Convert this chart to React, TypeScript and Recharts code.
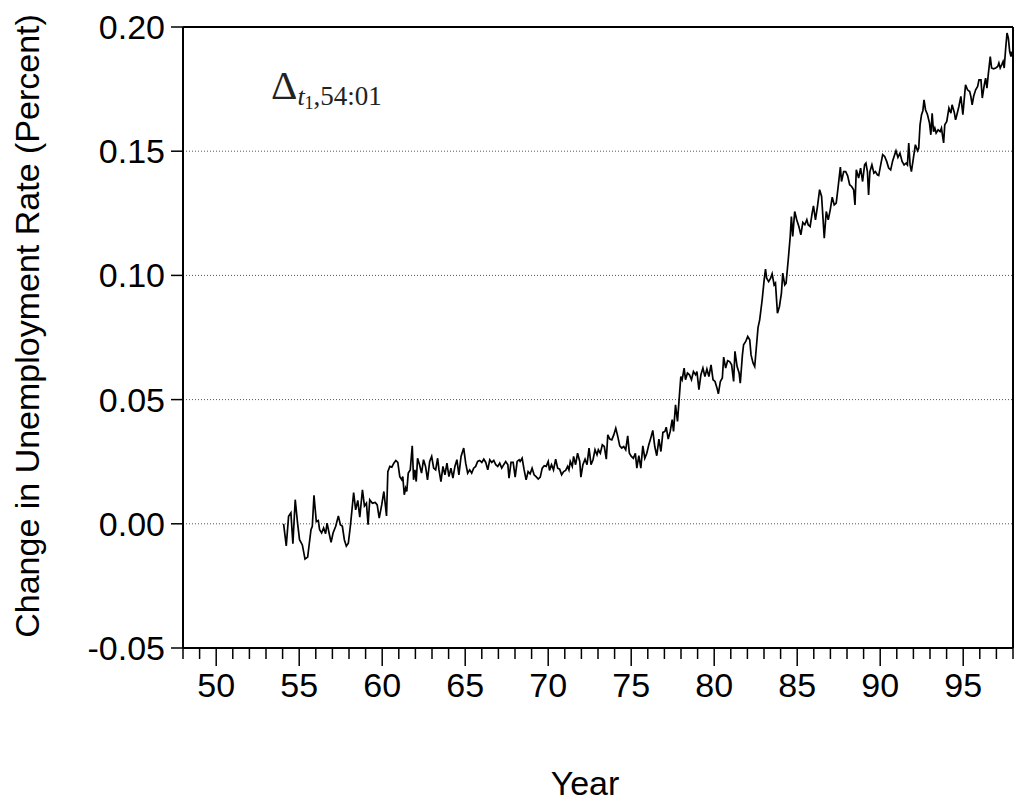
import React from 'react';
import { LineChart, Line, XAxis, YAxis, CartesianGrid, ReferenceLine } from 'recharts';

const years: number[] = [
  54.06, 54.22, 54.36, 54.50, 54.62, 54.76, 54.90, 55.02, 55.19, 55.35, 55.51, 55.71, 55.79, 55.89,
  56.03, 56.15, 56.23, 56.35, 56.47, 56.59, 56.68, 56.80, 56.92, 57.04, 57.20, 57.36, 57.48, 57.60,
  57.72, 57.84, 57.96, 58.08, 58.16, 58.28, 58.40, 58.53, 58.65, 58.81, 58.93, 59.05, 59.15, 59.25,
  59.41, 59.58, 59.70, 59.82, 59.97, 60.10, 60.26, 60.34, 60.46, 60.58, 60.70, 60.82, 60.94, 61.06,
  61.18, 61.24, 61.33, 61.41, 61.48, 61.57, 61.69, 61.81, 61.89, 61.97, 62.05, 62.13, 62.25, 62.37,
  62.49, 62.61, 62.73, 62.86, 62.98, 63.10, 63.22, 63.34, 63.42, 63.54, 63.66, 63.78, 63.90, 64.02,
  64.14, 64.26, 64.38, 64.50, 64.62, 64.75, 64.91, 65.03, 65.15, 65.27, 65.39, 65.51, 65.63, 65.75,
  65.87, 66.00, 66.12, 66.24, 66.36, 66.48, 66.60, 66.72, 66.84, 66.96, 67.08, 67.20, 67.32, 67.44,
  67.57, 67.64, 67.76, 67.89, 68.01, 68.13, 68.25, 68.31, 68.43, 68.55, 68.67, 68.79, 68.91, 69.03,
  69.15, 69.27, 69.40, 69.52, 69.64, 69.76, 69.88, 70.00, 70.08, 70.20, 70.32, 70.45, 70.57, 70.69,
  70.81, 70.93, 71.05, 71.17, 71.25, 71.33, 71.45, 71.53, 71.65, 71.77, 71.90, 71.97, 72.09, 72.22,
  72.34, 72.46, 72.58, 72.70, 72.82, 72.94, 73.02, 73.14, 73.26, 73.38, 73.50, 73.59, 73.71, 73.83,
  73.95, 74.07, 74.19, 74.31, 74.43, 74.55, 74.67, 74.79, 74.89, 75.01, 75.13, 75.25, 75.34, 75.46,
  75.58, 75.70, 75.82, 75.94, 76.06, 76.18, 76.30, 76.42, 76.54, 76.67, 76.79, 76.91, 77.03, 77.11,
  77.23, 77.35, 77.47, 77.55, 77.67, 77.79, 77.87, 77.99, 78.07, 78.19, 78.27, 78.39, 78.51, 78.63,
  78.75, 78.88, 78.96, 79.08, 79.20, 79.32, 79.44, 79.56, 79.68, 79.81, 79.93, 80.05, 80.17, 80.25,
  80.37, 80.49, 80.57, 80.69, 80.81, 80.93, 81.05, 81.17, 81.25, 81.38, 81.50, 81.57, 81.70, 81.77,
  81.90, 82.02, 82.14, 82.22, 82.34, 82.44, 82.64, 82.74, 82.89, 83.01, 83.09, 83.16, 83.28, 83.40,
  83.49, 83.61, 83.69, 83.81, 83.93, 84.05, 84.13, 84.25, 84.33, 84.46, 84.58, 84.65, 84.73, 84.85,
  84.97, 85.10, 85.22, 85.34, 85.46, 85.58, 85.66, 85.78, 85.90, 85.98, 86.10, 86.22, 86.35, 86.47,
  86.63, 86.75, 86.87, 86.99, 87.11, 87.23, 87.35, 87.47, 87.60, 87.67, 87.80, 87.92, 88.04, 88.16,
  88.28, 88.40, 88.48, 88.56, 88.70, 88.82, 88.94, 89.06, 89.14, 89.23, 89.30, 89.38, 89.50, 89.62,
  89.71, 89.83, 89.91, 90.03, 90.15, 90.27, 90.39, 90.51, 90.63, 90.75, 90.87, 90.95, 91.07, 91.19,
  91.32, 91.44, 91.56, 91.64, 91.72, 91.80, 91.88, 92.00, 92.12, 92.25, 92.32, 92.40, 92.49, 92.57,
  92.64, 92.73, 92.85, 92.97, 93.05, 93.13, 93.21, 93.29, 93.37, 93.49, 93.61, 93.69, 93.82, 93.89,
  94.01, 94.14, 94.26, 94.33, 94.46, 94.54, 94.62, 94.74, 94.86, 94.98, 95.06, 95.14, 95.26, 95.39,
  95.46, 95.54, 95.63, 95.75, 95.87, 95.95, 96.07, 96.15, 96.27, 96.35, 96.43, 96.51, 96.63, 96.71,
  96.83, 96.96, 97.08, 97.15, 97.23, 97.32, 97.40, 97.47, 97.56, 97.64, 97.72, 97.80, 97.88, 97.92,
];

const changeValues: number[] = [
  0.0000, -0.0089, 0.0030, 0.0044, -0.0080, 0.0097, 0.0004, -0.0064, -0.0085, -0.0142, -0.0134, -0.0024, -0.0010, 0.0115,
  0.0009, 0.0013, -0.0024, -0.0037, -0.0017, -0.0040, 0.0003, -0.0037, -0.0075, -0.0037, -0.0010, 0.0032, -0.0004, -0.0010,
  -0.0064, -0.0090, -0.0078, -0.0010, 0.0043, 0.0126, 0.0056, 0.0094, 0.0027, 0.0137, 0.0072, 0.0083, -0.0004, 0.0097,
  0.0083, 0.0086, 0.0076, 0.0023, 0.0076, 0.0130, 0.0032, 0.0210, 0.0231, 0.0228, 0.0244, 0.0255, 0.0247, 0.0190,
  0.0177, 0.0190, 0.0117, 0.0144, 0.0130, 0.0204, 0.0217, 0.0314, 0.0177, 0.0217, 0.0170, 0.0264, 0.0238, 0.0204,
  0.0258, 0.0231, 0.0177, 0.0251, 0.0271, 0.0224, 0.0217, 0.0264, 0.0217, 0.0170, 0.0231, 0.0197, 0.0244, 0.0190,
  0.0224, 0.0184, 0.0231, 0.0258, 0.0197, 0.0271, 0.0305, 0.0244, 0.0204, 0.0217, 0.0204, 0.0224, 0.0231, 0.0251,
  0.0255, 0.0247, 0.0260, 0.0247, 0.0217, 0.0258, 0.0247, 0.0255, 0.0238, 0.0231, 0.0244, 0.0224, 0.0238, 0.0251,
  0.0238, 0.0184, 0.0247, 0.0247, 0.0188, 0.0251, 0.0258, 0.0251, 0.0264, 0.0217, 0.0177, 0.0210, 0.0201, 0.0224,
  0.0197, 0.0190, 0.0180, 0.0188, 0.0224, 0.0234, 0.0231, 0.0251, 0.0215, 0.0238, 0.0217, 0.0260, 0.0224, 0.0220,
  0.0197, 0.0210, 0.0215, 0.0231, 0.0217, 0.0251, 0.0231, 0.0271, 0.0238, 0.0284, 0.0251, 0.0188, 0.0238, 0.0260,
  0.0238, 0.0305, 0.0238, 0.0258, 0.0298, 0.0278, 0.0298, 0.0284, 0.0318, 0.0311, 0.0260, 0.0358, 0.0341, 0.0338,
  0.0358, 0.0385, 0.0352, 0.0314, 0.0305, 0.0311, 0.0298, 0.0354, 0.0284, 0.0271, 0.0264, 0.0284, 0.0224, 0.0274,
  0.0224, 0.0314, 0.0264, 0.0284, 0.0318, 0.0345, 0.0376, 0.0311, 0.0274, 0.0341, 0.0291, 0.0368, 0.0372, 0.0389,
  0.0341, 0.0372, 0.0419, 0.0372, 0.0479, 0.0412, 0.0486, 0.0593, 0.0580, 0.0627, 0.0580, 0.0607, 0.0600, 0.0580,
  0.0613, 0.0600, 0.0613, 0.0540, 0.0600, 0.0627, 0.0593, 0.0623, 0.0593, 0.0640, 0.0580, 0.0573, 0.0546, 0.0523,
  0.0573, 0.0587, 0.0671, 0.0627, 0.0657, 0.0653, 0.0640, 0.0573, 0.0694, 0.0633, 0.0607, 0.0566, 0.0680, 0.0721,
  0.0734, 0.0754, 0.0741, 0.0680, 0.0647, 0.0633, 0.0790, 0.0821, 0.0902, 0.0982, 0.1025, 0.0989, 0.0975, 0.0989,
  0.1006, 0.0962, 0.0969, 0.0848, 0.0875, 0.0929, 0.1009, 0.0962, 0.0969, 0.1063, 0.1157, 0.1237, 0.1157, 0.1257,
  0.1224, 0.1197, 0.1163, 0.1213, 0.1204, 0.1224, 0.1204, 0.1197, 0.1251, 0.1280, 0.1224, 0.1277, 0.1345, 0.1318,
  0.1150, 0.1257, 0.1224, 0.1264, 0.1315, 0.1284, 0.1291, 0.1358, 0.1436, 0.1378, 0.1418, 0.1418, 0.1401, 0.1365,
  0.1358, 0.1345, 0.1284, 0.1425, 0.1392, 0.1432, 0.1378, 0.1445, 0.1452, 0.1418, 0.1324, 0.1418, 0.1445, 0.1412,
  0.1418, 0.1405, 0.1402, 0.1445, 0.1486, 0.1479, 0.1459, 0.1432, 0.1425, 0.1461, 0.1486, 0.1502, 0.1475, 0.1492,
  0.1459, 0.1445, 0.1452, 0.1445, 0.1533, 0.1445, 0.1418, 0.1472, 0.1526, 0.1502, 0.1512, 0.1606, 0.1647, 0.1663,
  0.1707, 0.1667, 0.1647, 0.1613, 0.1566, 0.1653, 0.1579, 0.1593, 0.1573, 0.1586, 0.1579, 0.1593, 0.1533, 0.1606,
  0.1620, 0.1674, 0.1653, 0.1687, 0.1657, 0.1626, 0.1647, 0.1680, 0.1721, 0.1647, 0.1707, 0.1767, 0.1747, 0.1740,
  0.1721, 0.1687, 0.1721, 0.1747, 0.1761, 0.1787, 0.1787, 0.1714, 0.1767, 0.1794, 0.1754, 0.1808, 0.1881, 0.1835,
  0.1832, 0.1835, 0.1841, 0.1855, 0.1835, 0.1848, 0.1861, 0.1835, 0.1915, 0.1976, 0.1955, 0.1901, 0.1881, 0.1901,
];

const yTicks: number[] = [-0.05, 0, 0.05, 0.1, 0.15, 0.2];
const xTicks: number[] = Array.from({ length: 51 }, (_, i) => 48 + i);
const xLabelYears: number[] = [50, 55, 60, 65, 70, 75, 80, 85, 90, 95];

const data = years.map((y, i) => ({ year: y, value: changeValues[i] }));

const FONT = '"Liberation Sans", Arial, Helvetica, sans-serif';

const XTick = (props: any) => {
  const { x, y, payload } = props;
  const v = payload.value;
  const major = xLabelYears.includes(v);
  return (
    <g>
      <line x1={x} x2={x} y1={y} y2={y + (major ? 18 : 11)} stroke="#000" strokeWidth={1.5} />
      {major && (
        <text x={x} y={y + 49} textAnchor="middle" fontSize={34} fontFamily={FONT} fill="#000">
          {v}
        </text>
      )}
    </g>
  );
};

export default function App() {
  return (
    <div style={{ position: 'absolute', left: 0, top: 0, width: 1016, height: 803, background: '#fff' }}>
      <LineChart width={1016} height={803} data={data} margin={{ top: 27, right: 3, left: 0, bottom: 0 }}>
        <CartesianGrid horizontal vertical={false} stroke="#555" strokeDasharray="1 2" strokeWidth={1} />
        <XAxis
          type="number"
          dataKey="year"
          domain={[48, 98]}
          ticks={xTicks}
          interval={0}
          allowDataOverflow
          height={155}
          tickSize={0}
          tickMargin={0}
          tickLine={false}
          axisLine={{ stroke: '#000', strokeWidth: 2 }}
          tick={<XTick />}
        />
        <YAxis
          type="number"
          domain={[-0.05, 0.2]}
          ticks={yTicks}
          interval={0}
          allowDataOverflow
          width={183}
          tickSize={12}
          tickMargin={6}
          tickLine={{ stroke: '#000', strokeWidth: 1.5 }}
          axisLine={{ stroke: '#000', strokeWidth: 2 }}
          tickFormatter={(v: number) => v.toFixed(2)}
          tick={{ fontSize: 34, fontFamily: FONT, fill: '#000' }}
        />
        <ReferenceLine y={0.2} stroke="#000" strokeWidth={2} ifOverflow="visible" />
        <ReferenceLine x={98} stroke="#000" strokeWidth={2} ifOverflow="visible" />
        <Line
          type="linear"
          dataKey="value"
          stroke="#000"
          strokeWidth={1.7}
          dot={false}
          isAnimationActive={false}
        />
      </LineChart>
      <svg
        width={1016}
        height={803}
        style={{ position: 'absolute', left: 0, top: 0, pointerEvents: 'none' }}
      >
        <text
          transform="translate(39, 326) rotate(-90)"
          textAnchor="middle"
          fontSize={34}
          fontFamily={FONT}
          fill="#000"
        >
          Change in Unemployment Rate (Percent)
        </text>
        <text x={585} y={795} textAnchor="middle" fontSize={34} fontFamily={FONT} fill="#000">
          Year
        </text>
        <text x={271} y={99} fontFamily='"Liberation Serif", "DejaVu Serif", serif' fill="#222">
          <tspan fontSize={41}>Δ</tspan>
          <tspan fontSize={26} fontStyle="italic" dy={6}>t</tspan>
          <tspan fontSize={18} dy={4}>1</tspan>
          <tspan fontSize={27} dy={-4}>,54:01</tspan>
        </text>
      </svg>
    </div>
  );
}
